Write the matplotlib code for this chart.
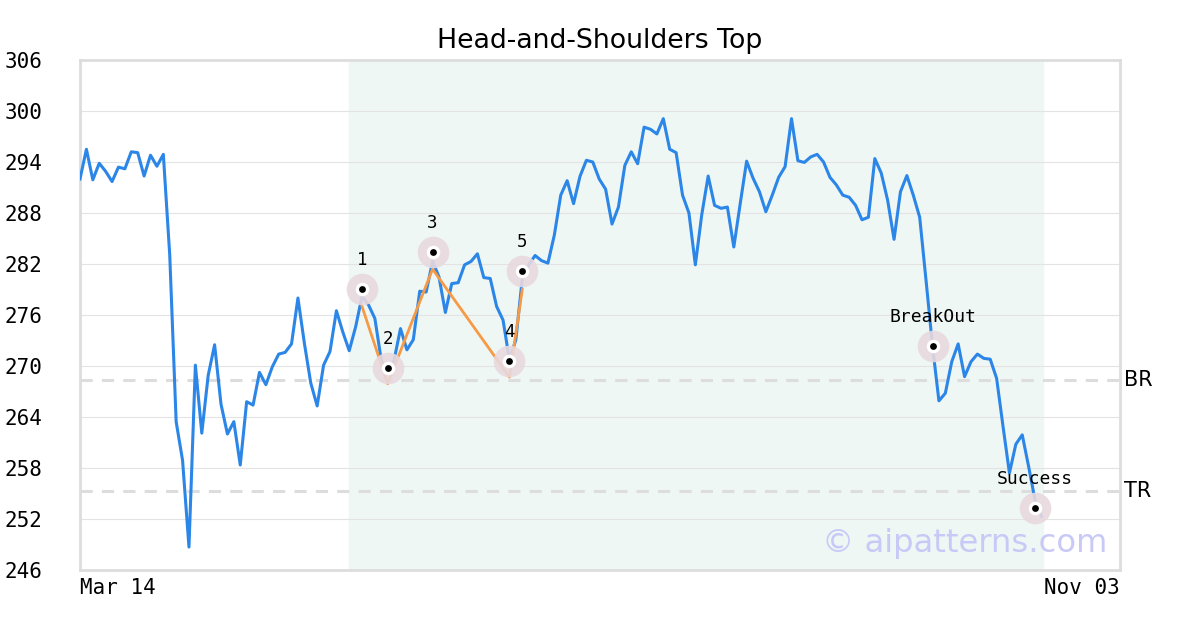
import numpy as np
import matplotlib
matplotlib.use('Agg')
import matplotlib.pyplot as plt

# Price series (one value per trading day)
prices = [
    292.0, 295.5, 291.9, 293.85, 292.9, 291.7, 293.4, 293.2, 295.2, 295.1,
    292.35, 294.8, 293.5, 294.9, 283.05, 263.45, 258.9, 248.7, 270.1, 262.1,
    268.9, 272.5, 265.5, 262.0, 263.45, 258.35, 265.8, 265.4, 269.25, 267.8,
    269.9, 271.4, 271.6, 272.6, 278.0, 272.7, 268.0, 265.3, 270.1, 271.7,
    276.5, 274.0, 271.8, 274.6, 278.2, 277.2, 275.6, 270.7, 269.0, 270.7,
    274.4, 271.9, 273.1, 278.8, 278.7, 282.3, 280.5, 276.3, 279.7, 279.8,
    281.9, 282.3, 283.2, 280.4, 280.3, 277.0, 275.4, 270.7, 273.1, 280.3,
    281.9, 283.0, 282.4, 282.1, 285.4, 290.1, 291.8, 289.1, 292.3, 294.2,
    294.0, 292.0, 290.8, 286.7, 288.7, 293.6, 295.2, 293.8, 298.1, 297.85,
    297.3, 299.1, 295.5, 295.1, 290.1, 288.0, 281.9, 287.8, 292.35, 288.9,
    288.55, 288.7, 284.0, 289.1, 294.1, 292.1, 290.5, 288.15, 290.1, 292.2,
    293.45, 299.1, 294.15, 293.95, 294.6, 294.9, 294.0, 292.2, 291.3, 290.1,
    289.85, 288.9, 287.2, 287.5, 294.4, 292.7, 289.5, 284.9, 290.5, 292.4,
    290.1, 287.5, 280.0, 272.35, 265.9, 266.8, 270.5, 272.6, 268.75, 270.5,
    271.4, 270.9, 270.8, 268.55, 262.9, 257.4, 260.8, 261.9, 258.15, 254.2,
    252.3,
]

# Pattern legs (orange)
pattern_idx = [44, 48, 55, 67, 69]
pattern_val = [277.0, 267.9, 281.4, 268.7, 279.0]

# Marked points
point_labels = ['1', '2', '3', '4', '5', 'BreakOut', 'Success']
point_idx = [44, 48, 55, 67, 69, 133, 149]
point_val = [279.06, 269.76, 283.4, 270.6, 281.2, 272.35, 253.3]

# Levels
br_level = 268.35
tr_level = 255.25

pattern_start, pattern_end = 42, 150.2
date_labels = ['Mar 14', 'Nov 03']
y_ticks = [246, 252, 258, 264, 270, 276, 282, 288, 294, 300, 306]

x_max = 162.25

fig = plt.figure(figsize=(12, 6.3), dpi=100)
ax = fig.add_axes([80 / 1200, 1 - 570 / 630, 1040 / 1200, 510 / 630])

ax.axvspan(pattern_start, pattern_end, color='#eff7f4', zorder=0)

for y in y_ticks:
    ax.axhline(y, color='#e3e3e3', linewidth=0.8, zorder=1)

ax.axhline(br_level, color='#dddddd', linewidth=2.2, linestyle=(0, (4, 3)), zorder=1)
ax.axhline(tr_level, color='#dddddd', linewidth=2.2, linestyle=(0, (4, 3)), zorder=1)
ax.text(x_max + 0.7, br_level, 'BR', fontsize=15, va='center', ha='left')
ax.text(x_max + 0.7, tr_level, 'TR', fontsize=15, va='center', ha='left')

x = np.arange(len(prices))
ax.plot(x, prices, color='#2b86e8', linewidth=2.2, zorder=3)
ax.plot(pattern_idx, pattern_val, color='#f79a45', linewidth=2.0, zorder=4)

ax.scatter(point_idx, point_val, s=520, color='#e8d9de', alpha=0.9, zorder=5, linewidths=0)
ax.scatter(point_idx, point_val, s=95, color='white', zorder=6, linewidths=0)
ax.scatter(point_idx, point_val, s=24, color='black', zorder=7, linewidths=0)

for lab, xi, yv in zip(point_labels, point_idx, point_val):
    size = 12.5 if len(lab) == 1 else 13
    ax.annotate(lab, (xi, yv), xytext=(0, 21), textcoords='offset points',
                ha='center', va='center', fontsize=size, family='DejaVu Sans Mono', zorder=8)

ax.text(0.988, 0.052, '\u00a9 aipatterns.com', transform=ax.transAxes, fontsize=23.2,
        color='#c9c9f7', ha='right', va='center', zorder=9)

ax.set_xlim(0, x_max)
ax.set_ylim(246, 306)
ax.set_yticks(y_ticks)
ax.set_yticklabels([str(v) for v in y_ticks], family='DejaVu Sans Mono', fontsize=15)
ax.set_xticks([0, x_max])
ax.set_xticklabels(date_labels, family='DejaVu Sans Mono', fontsize=15)
xt = ax.get_xticklabels()
xt[0].set_ha('left')
xt[1].set_ha('right')
ax.tick_params(axis='both', length=0)
ax.tick_params(axis='x', pad=6)
for lbl in ax.get_yticklabels():
    lbl.set_ha('left')
    lbl.set_position((-75 / 1040, 0))
ax.yaxis.set_tick_params(pad=0)

for s in ax.spines.values():
    s.set_color('#dddddd')
    s.set_linewidth(2)

ax.set_title('Head-and-Shoulders Top', fontsize=19.3, pad=9)

fig.savefig('out.png', dpi=100)
